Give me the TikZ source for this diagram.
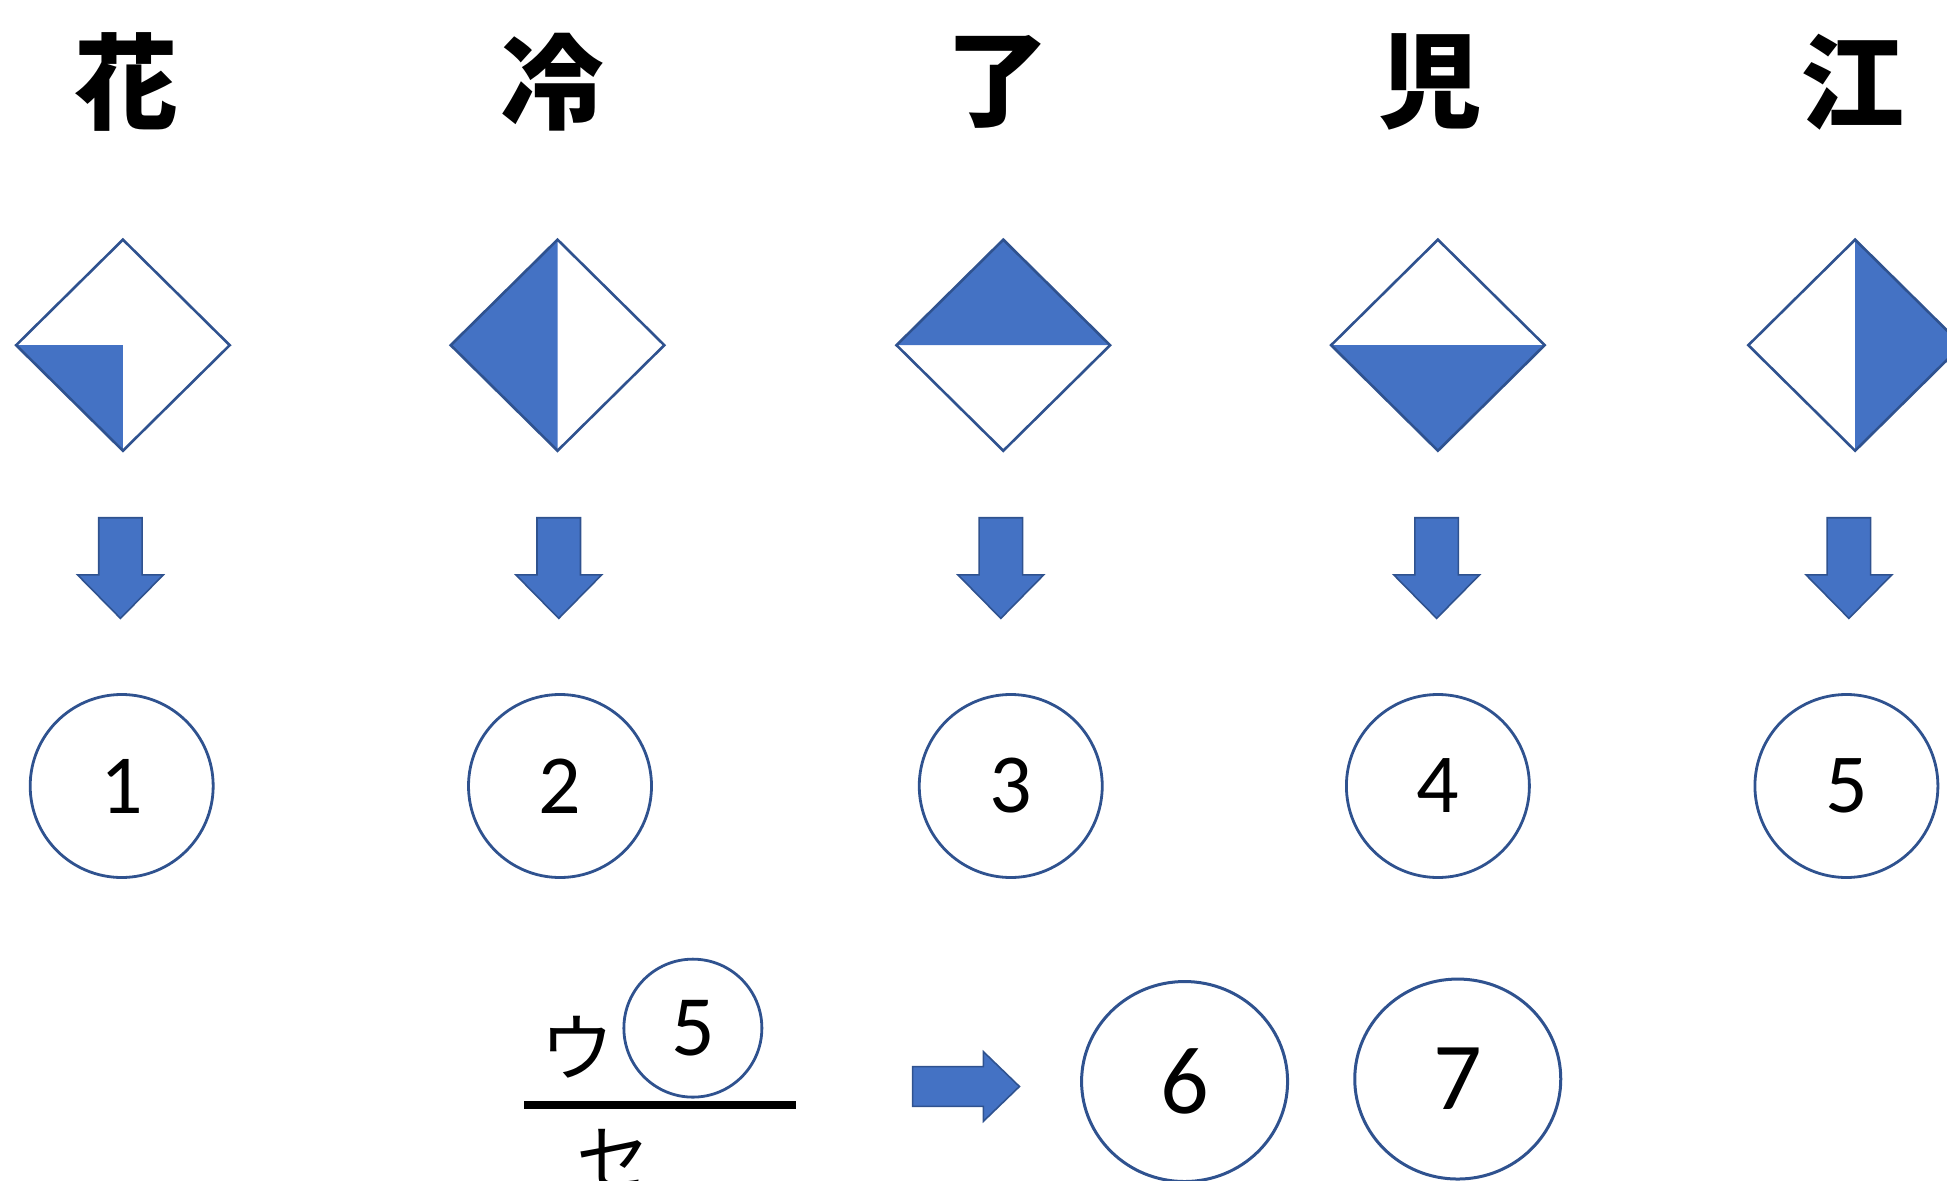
\documentclass[tikz,border=0pt]{standalone}
\usepackage{fontspec}
\setmainfont{Carlito}
\newfontfamily\cjk{Noto Sans CJK JP}
\definecolor{bfill}{HTML}{4472C4}
\definecolor{bline}{HTML}{2F528F}
\tikzset{
  kanji/.style={inner sep=0pt, font=\cjk\bfseries\fontsize{52}{52}\selectfont},
  numc/.style={circle, draw=bline, line width=1.4pt, fill=white, minimum size=91.5pt, inner sep=0pt, font=\fontsize{42}{42}\selectfont},
  bignum/.style={ellipse, draw=bline, line width=1.5pt, minimum width=103pt, minimum height=100pt, inner sep=0pt, font=\fontsize{48}{48}\selectfont},
  kana/.style={inner sep=0pt, font=\cjk\fontsize{37}{37}\selectfont},
  dline/.style={draw=bline, line width=1.3pt, line join=miter},
  bfillst/.style={fill=bfill},
  blockarrow/.style={fill=bfill, draw=bline, line width=0.8pt, line join=miter}
}
\usetikzlibrary{shapes.geometric}
\begin{document}
\begin{tikzpicture}[x=0.62085pt,y=-0.62085pt]
\useasboundingbox (0,0) rectangle (1568,951);
% kanji
\node[kanji] (k1) at (102,66) {花};
\node[kanji] (k2) at (445,66) {冷};
\node[kanji] (k3) at (803,66) {了};
\node[kanji] (k4) at (1152,66) {児};
\node[kanji] (k5) at (1492,66) {江};
% diamonds
\begin{scope}[shift={(99,278)}]
  \fill[bfillst] (0,0) -- (-86,0) -- (0,85) -- cycle;
  \draw[dline] (0,-85) -- (86,0) -- (0,85) -- (-86,0) -- cycle;
\end{scope}
\begin{scope}[shift={(449,278)}]
  \fill[bfillst] (0,-85) -- (-86,0) -- (0,85) -- cycle;
  \draw[dline] (0,-85) -- (86,0) -- (0,85) -- (-86,0) -- cycle;
\end{scope}
\begin{scope}[shift={(808,278)}]
  \fill[bfillst] (-86,0) -- (0,-85) -- (86,0) -- cycle;
  \draw[dline] (0,-85) -- (86,0) -- (0,85) -- (-86,0) -- cycle;
\end{scope}
\begin{scope}[shift={(1158,278)}]
  \fill[bfillst] (-86,0) -- (0,85) -- (86,0) -- cycle;
  \draw[dline] (0,-85) -- (86,0) -- (0,85) -- (-86,0) -- cycle;
\end{scope}
\begin{scope}[shift={(1494,278)}]
  \fill[bfillst] (0,-85) -- (86,0) -- (0,85) -- cycle;
  \draw[dline] (0,-85) -- (86,0) -- (0,85) -- (-86,0) -- cycle;
\end{scope}
% down arrows
\foreach \cx in {97,450,806,1157,1489}{
  \begin{scope}[shift={(\cx,417)}]
    \draw[blockarrow] (-17.5,0) -- (17.5,0) -- (17.5,46) -- (34.5,46) -- (0,81) -- (-34.5,46) -- (-17.5,46) -- cycle;
  \end{scope}
}
% numbered circles
\node[numc] (c1) at (98,633) {1};
\node[numc] (c2) at (451,633) {2};
\node[numc] (c3) at (814,633) {3};
\node[numc] (c4) at (1158,633) {4};
\node[numc] (c5) at (1487,633) {5};
% bottom fraction
\coordinate (la) at (422,890);
\coordinate (lb) at (641,890);
\draw[line width=3.7pt] (la) -- (lb);
\node[kana] (u) at (465,843) {ウ};
\node[circle, draw=bline, line width=1.4pt, minimum size=69pt, inner sep=0pt, font=\fontsize{43}{43}\selectfont] (c5b) at (558,828) {5};
\node[kana] (se) at (494,933) {セ};
% right arrow
\begin{scope}[shift={(735,875)}]
  \draw[blockarrow] (0,-16) -- (57,-16) -- (57,-28) -- (86,0) -- (57,28) -- (57,16) -- (0,16) -- cycle;
\end{scope}
\node[bignum] (c6) at (954,871) {6};
\node[bignum] (c7) at (1174,869) {7};
\end{tikzpicture}
\end{document}
